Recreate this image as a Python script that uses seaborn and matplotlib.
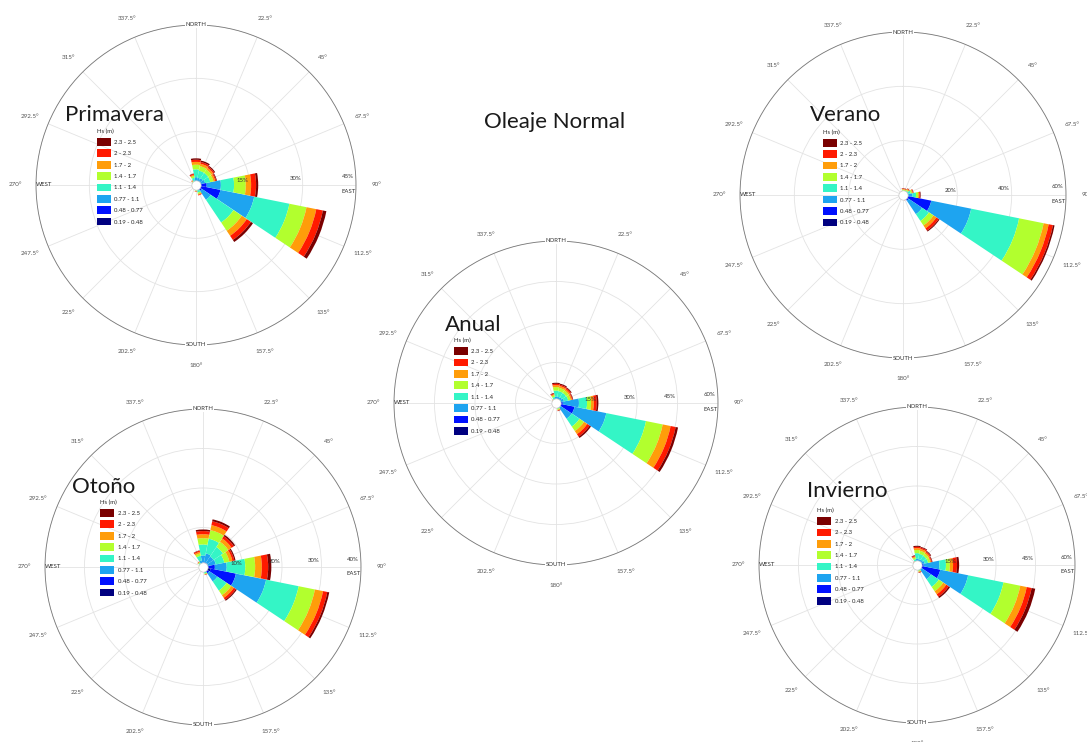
import numpy as np
import seaborn as sns
import matplotlib.pyplot as plt
from matplotlib.patches import Patch

# ==========================================
# DATA: wave roses (frequency %, stacked by Hs class)
# rows = direction N, NNE, NE, ... NNW ; cols = Hs classes low -> high
# ==========================================
directions = [0, 22.5, 45, 67.5, 90, 112.5, 135, 157.5,
              180, 202.5, 225, 247.5, 270, 292.5, 315, 337.5]
angle_labels = ['', '22.5°', '45°', '67.5°', '90°', '112.5°', '135°', '157.5°',
                '180°', '202.5°', '225°', '247.5°', '270°', '292.5°', '315°', '337.5°']
hs_classes = ['0.19 - 0.48', '0.48 - 0.77', '0.77 - 1.1', '1.1 - 1.4',
              '1.4 - 1.7', '1.7 - 2', '2 - 2.3', '2.3 - 2.5']
hs_colors = ['#000080', '#0010ff', '#1ea4f0', '#34f5c6',
             '#b2ff2e', '#ff9d0a', '#ff1a00', '#7a0000']

primavera = [
    [0.2, 0.5, 1.5, 2.2, 1.3, 0.8, 0.6, 0.4],
    [0.2, 0.5, 1.4, 2.0, 1.3, 0.7, 0.5, 0.4],
    [0.2, 0.6, 1.5, 1.8, 1.1, 0.6, 0.4, 0.3],
    [0.2, 0.8, 1.6, 1.5, 0.9, 0.5, 0.3, 0.2],
    [0.5, 2.5, 4.0, 3.7, 3.3, 1.5, 1.4, 0.6],
    [1.5, 5.5, 9.7, 10.1, 4.9, 2.8, 1.9, 1.0],
    [0.5, 1.5, 3.0, 7.7, 2.8, 1.7, 1.4, 0.7],
    [0.2, 0.6, 0.8, 0.6, 0.4, 0.2, 0.2, 0.0],
    [0.2, 0.5, 0.5, 0.3, 0.2, 0.1, 0.1, 0.0],
    [0.2, 0.3, 0.2, 0.1, 0.0, 0.0, 0.0, 0.0],
    [0.2, 0.3, 0.2, 0.1, 0.0, 0.0, 0.0, 0.0],
    [0.2, 0.3, 0.2, 0.1, 0.0, 0.0, 0.0, 0.0],
    [0.2, 0.3, 0.2, 0.1, 0.0, 0.0, 0.0, 0.0],
    [0.2, 0.3, 0.3, 0.2, 0.1, 0.0, 0.0, 0.0],
    [0.2, 0.3, 0.4, 0.3, 0.2, 0.1, 0.1, 0.0],
    [0.2, 0.4, 0.7, 0.8, 0.5, 0.3, 0.3, 0.1],
]
verano = [
    [0.1, 0.3, 0.6, 0.6, 0.4, 0.2, 0.2, 0.1],
    [0.1, 0.3, 0.6, 0.6, 0.4, 0.2, 0.2, 0.1],
    [0.1, 0.4, 0.8, 0.7, 0.4, 0.3, 0.2, 0.1],
    [0.2, 0.6, 1.2, 0.9, 0.5, 0.3, 0.2, 0.1],
    [0.3, 1.2, 2.0, 1.3, 0.8, 0.4, 0.3, 0.2],
    [2.0, 8.6, 15.0, 18.0, 9.2, 1.9, 1.6, 0.6],
    [0.5, 2.0, 6.0, 3.0, 2.0, 1.3, 1.0, 0.4],
    [0.2, 0.5, 0.6, 0.3, 0.2, 0.1, 0.1, 0.0],
    [0.2, 0.3, 0.3, 0.2, 0.1, 0.0, 0.0, 0.0],
    [0.1, 0.2, 0.2, 0.1, 0.0, 0.0, 0.0, 0.0],
    [0.1, 0.2, 0.2, 0.1, 0.0, 0.0, 0.0, 0.0],
    [0.1, 0.2, 0.2, 0.1, 0.0, 0.0, 0.0, 0.0],
    [0.1, 0.2, 0.2, 0.1, 0.0, 0.0, 0.0, 0.0],
    [0.1, 0.2, 0.2, 0.1, 0.0, 0.0, 0.0, 0.0],
    [0.1, 0.2, 0.3, 0.2, 0.1, 0.0, 0.0, 0.0],
    [0.1, 0.3, 0.4, 0.3, 0.2, 0.1, 0.1, 0.0],
]
anual = [
    [0.2, 0.6, 1.6, 2.2, 1.3, 0.7, 0.5, 0.4],
    [0.2, 0.6, 1.6, 2.1, 1.2, 0.7, 0.5, 0.4],
    [0.2, 0.7, 1.7, 1.9, 1.1, 0.6, 0.5, 0.3],
    [0.3, 0.9, 1.8, 1.6, 0.9, 0.5, 0.3, 0.2],
    [0.5, 2.0, 6.0, 3.0, 1.5, 1.0, 1.1, 0.6],
    [1.5, 5.5, 12.0, 15.0, 6.3, 3.0, 1.9, 0.9],
    [0.5, 1.5, 5.0, 3.5, 2.0, 1.4, 1.1, 0.6],
    [0.2, 0.6, 0.8, 0.6, 0.4, 0.2, 0.2, 0.1],
    [0.2, 0.4, 0.4, 0.3, 0.2, 0.1, 0.1, 0.0],
    [0.2, 0.3, 0.2, 0.1, 0.0, 0.0, 0.0, 0.0],
    [0.2, 0.3, 0.2, 0.1, 0.0, 0.0, 0.0, 0.0],
    [0.2, 0.3, 0.2, 0.1, 0.0, 0.0, 0.0, 0.0],
    [0.2, 0.3, 0.2, 0.1, 0.0, 0.0, 0.0, 0.0],
    [0.2, 0.3, 0.3, 0.2, 0.1, 0.0, 0.0, 0.0],
    [0.2, 0.3, 0.4, 0.4, 0.2, 0.1, 0.1, 0.0],
    [0.2, 0.4, 0.8, 0.9, 0.6, 0.4, 0.3, 0.2],
]
otono = [
    [0.3, 0.8, 1.8, 2.8, 1.6, 1.0, 0.8, 0.4],
    [0.3, 0.9, 2.3, 3.8, 2.2, 1.3, 1.0, 0.5],
    [0.3, 0.9, 2.0, 2.9, 1.6, 1.0, 0.7, 0.4],
    [0.3, 1.0, 2.0, 2.2, 1.3, 0.8, 0.5, 0.3],
    [0.5, 2.5, 3.0, 4.7, 2.5, 1.7, 1.6, 0.8],
    [2.0, 6.5, 7.8, 8.4, 4.2, 2.1, 1.1, 0.5],
    [0.4, 1.5, 2.5, 2.8, 1.4, 0.8, 0.6, 0.3],
    [0.2, 0.5, 0.6, 0.4, 0.2, 0.1, 0.1, 0.0],
    [0.2, 0.3, 0.3, 0.2, 0.1, 0.0, 0.0, 0.0],
    [0.2, 0.3, 0.2, 0.1, 0.0, 0.0, 0.0, 0.0],
    [0.2, 0.3, 0.2, 0.1, 0.0, 0.0, 0.0, 0.0],
    [0.2, 0.3, 0.2, 0.1, 0.0, 0.0, 0.0, 0.0],
    [0.2, 0.3, 0.2, 0.1, 0.0, 0.0, 0.0, 0.0],
    [0.2, 0.3, 0.3, 0.2, 0.1, 0.0, 0.0, 0.0],
    [0.2, 0.3, 0.4, 0.4, 0.2, 0.1, 0.1, 0.0],
    [0.2, 0.5, 1.0, 1.2, 0.6, 0.4, 0.3, 0.1],
]
invierno = [
    [0.2, 0.6, 1.6, 2.1, 1.2, 0.7, 0.5, 0.4],
    [0.2, 0.6, 1.5, 2.0, 1.2, 0.7, 0.5, 0.3],
    [0.2, 0.7, 1.6, 1.7, 1.0, 0.6, 0.4, 0.3],
    [0.3, 0.9, 1.7, 1.4, 0.8, 0.4, 0.3, 0.2],
    [0.5, 2.0, 6.0, 2.5, 1.5, 1.2, 1.5, 0.8],
    [2.0, 7.0, 10.8, 13.7, 6.5, 2.5, 1.9, 1.4],
    [0.5, 1.5, 4.5, 3.5, 2.0, 1.4, 1.1, 0.6],
    [0.2, 0.6, 0.8, 0.6, 0.4, 0.2, 0.2, 0.1],
    [0.2, 0.4, 0.4, 0.3, 0.2, 0.1, 0.1, 0.0],
    [0.2, 0.3, 0.2, 0.1, 0.0, 0.0, 0.0, 0.0],
    [0.2, 0.3, 0.2, 0.1, 0.0, 0.0, 0.0, 0.0],
    [0.2, 0.3, 0.2, 0.1, 0.0, 0.0, 0.0, 0.0],
    [0.2, 0.3, 0.2, 0.1, 0.0, 0.0, 0.0, 0.0],
    [0.2, 0.3, 0.3, 0.2, 0.1, 0.0, 0.0, 0.0],
    [0.2, 0.3, 0.4, 0.4, 0.2, 0.1, 0.1, 0.0],
    [0.2, 0.4, 0.8, 0.9, 0.6, 0.4, 0.3, 0.2],
]

# radial grid (percent) of each rose
primavera_rticks = [15, 30, 45]
verano_rticks = [20, 40, 60]
anual_rticks = [15, 30, 45, 60]
otono_rticks = [10, 20, 30, 40]
invierno_rticks = [15, 30, 45, 60]

# ==========================================
# FIGURE
# ==========================================
sns.set_style('white')
plt.rcParams['font.family'] = ['Lato', 'DejaVu Sans']

W, H = 1087, 742
fig = plt.figure(figsize=(W / 100, H / 100), dpi=100)


def add_polar(cx, cy, r):
    # place a polar axes from its centre / radius in pixels
    return fig.add_axes([(cx - r) / W, (H - cy - r) / H, 2 * r / W, 2 * r / H],
                        projection='polar')


def draw_rose(ax, freq, rticks, title, title_xy, legend_xy):
    ax.set_theta_zero_location('N')
    ax.set_theta_direction(-1)
    ax.set_axisbelow(True)
    theta = np.deg2rad(directions)
    bottom = np.zeros(len(directions))
    for k, color in enumerate(hs_colors):
        vals = np.array([row[k] for row in freq])
        ax.bar(theta, vals, width=np.deg2rad(22.3), bottom=bottom,
               color=color, edgecolor='none', zorder=3)
        bottom += vals
    rmax = rticks[-1]
    ax.set_ylim(0, rmax)
    ax.set_yticks(rticks)
    ax.set_yticklabels([])
    ax.set_xticks(theta)
    ax.set_xticklabels(angle_labels, fontsize=4.5, color='#555555')
    ax.tick_params(axis='x', pad=4)
    ax.grid(color='#e3e3e3', linewidth=0.6)
    ax.spines['polar'].set_color('#777777')
    ax.spines['polar'].set_linewidth(0.6)

    # calm circle
    ax.scatter([0], [0], s=45, c='white', edgecolors='#c8c8c8',
               linewidths=0.5, zorder=5)

    # radial labels along EAST
    for t in rticks:
        ax.text(np.deg2rad(88), t * 0.985, f'{t}%', ha='right', va='bottom',
                fontsize=4.3, color='#333333', zorder=6)
    box = dict(fc='white', ec='none', pad=0.3)
    ax.text(0, rmax, 'NORTH', ha='center', va='center', fontsize=4.3,
            color='#333333', bbox=box, zorder=6)
    ax.text(np.pi, rmax, 'SOUTH', ha='center', va='center', fontsize=4.3,
            color='#333333', bbox=box, zorder=6)
    ax.text(np.deg2rad(270), rmax, 'WEST', ha='left', va='center',
            fontsize=4.3, color='#333333', zorder=6)
    ax.text(np.deg2rad(91.5), rmax, 'EAST', ha='right', va='top',
            fontsize=4.3, color='#333333', zorder=6)

    ax.text(title_xy[0], title_xy[1], title, transform=ax.transAxes,
            fontsize=16, color='#1a1a1a', ha='left', va='center', zorder=7)

    handles = [Patch(facecolor=c, edgecolor='none') for c in hs_colors[::-1]]
    leg = ax.legend(handles, hs_classes[::-1], title='Hs (m)', loc='upper left',
                    bbox_to_anchor=legend_xy, frameon=False, fontsize=4.3,
                    title_fontsize=4.3, handlelength=2.3, handleheight=1.6,
                    labelspacing=0.62, handletextpad=0.6, borderpad=0,
                    borderaxespad=0)
    leg._legend_box.align = 'left'
    leg.set_zorder(8)


ax_p = add_polar(196, 185, 160)
draw_rose(ax_p, primavera, primavera_rticks, 'Primavera', (0.09, 0.72), (0.19, 0.675))

ax_v = add_polar(903, 195, 163)
draw_rose(ax_v, verano, verano_rticks, 'Verano', (0.215, 0.745), (0.255, 0.70))

ax_a = add_polar(556, 403, 162)
draw_rose(ax_a, anual, anual_rticks, 'Anual', (0.157, 0.74), (0.185, 0.70))

ax_o = add_polar(203, 567, 158)
draw_rose(ax_o, otono, otono_rticks, 'Otoño', (0.085, 0.753), (0.175, 0.712))

ax_i = add_polar(917, 565, 158)
draw_rose(ax_i, invierno, invierno_rticks, 'Invierno', (0.152, 0.734), (0.185, 0.68))

fig.text(555 / W, 1 - 122 / H, 'Oleaje Normal', ha='center', va='center',
         fontsize=16, color='#1a1a1a')

fig.savefig('out.png', dpi=100)
